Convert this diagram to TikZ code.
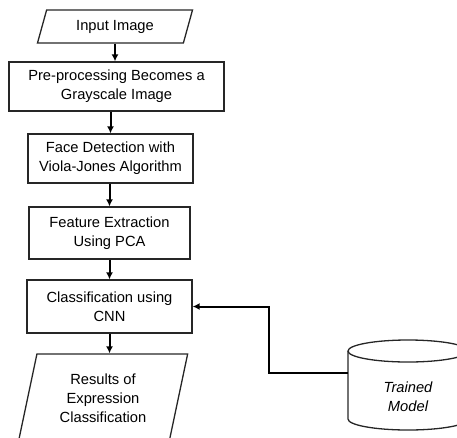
\documentclass[tikz,border=0pt]{standalone}
\usepackage{fontspec}
\setmainfont{Liberation Sans}
\usetikzlibrary{shapes.geometric,arrows.meta}
\begin{document}
\begin{tikzpicture}[x=1pt,y=-1pt,
    box/.style={draw=black!85, line width=1.3pt, align=center, inner sep=0pt, font=\fontsize{14.7}{19}\selectfont},
    io/.style={box, trapezium, trapezium stretches=true},
    cyl/.style={draw=black!85, line width=1.3pt},
    arr/.style={line width=2pt, -{Latex[length=7pt,width=7pt]}}]
\useasboundingbox (0,0) rectangle (457,437);
\clip (0,0) rectangle (457,437);
% flow boxes
\node[io, trapezium left angle=68.5, trapezium right angle=111.5, minimum width=156, minimum height=33] (in) at (115,26.5) {Input Image};
\node[box, minimum width=215, minimum height=49] (gray) at (116.5,86.5) {Pre-processing Becomes a\\Grayscale Image};
\node[box, minimum width=165, minimum height=49] (face) at (110.5,158.5) {Face Detection with\\Viola-Jones Algorithm};
\node[box, minimum width=161, minimum height=52] (pca) at (109.5,233) {Feature Extraction\\Using PCA};
\node[box, minimum width=165, minimum height=53] (cnn) at (109.5,306.5) {Classification using\\CNN};
\node[io, trapezium left angle=76, trapezium right angle=104, minimum width=169.5, minimum height=88] (out) at (103,398) {Results of\\Expression\\Classification};
% trained model (cylinder)
\node[align=center, inner sep=0pt, font=\fontsize{14.7}{19}\selectfont\itshape] (db) at (408,397) {Trained\\Model};
\draw[cyl] ([yshift=46pt]db.center) ellipse [x radius=60pt, y radius=11pt];
\draw[cyl] ([shift={(-60pt,46pt)}]db.center) -- ([shift={(-60pt,-22pt)}]db.center)
    arc [start angle=180, end angle=360, x radius=60pt, y radius=11pt] -- ([shift={(60pt,46pt)}]db.center);
% arrows
\draw[arr] (in.south) -- (in.south |- gray.north);
\draw[arr] (face.north |- gray.south) -- (face.north);
\draw[arr] (pca.north |- face.south) -- (pca.north);
\draw[arr] (cnn.north |- pca.south) -- (cnn.north);
\draw[arr] (cnn.south) -- (cnn.south |- out.north);
\draw[arr] ([shift={(-60pt,24pt)}]db.center) -- ++(-79,0) |- (cnn.east);
\end{tikzpicture}
\end{document}
